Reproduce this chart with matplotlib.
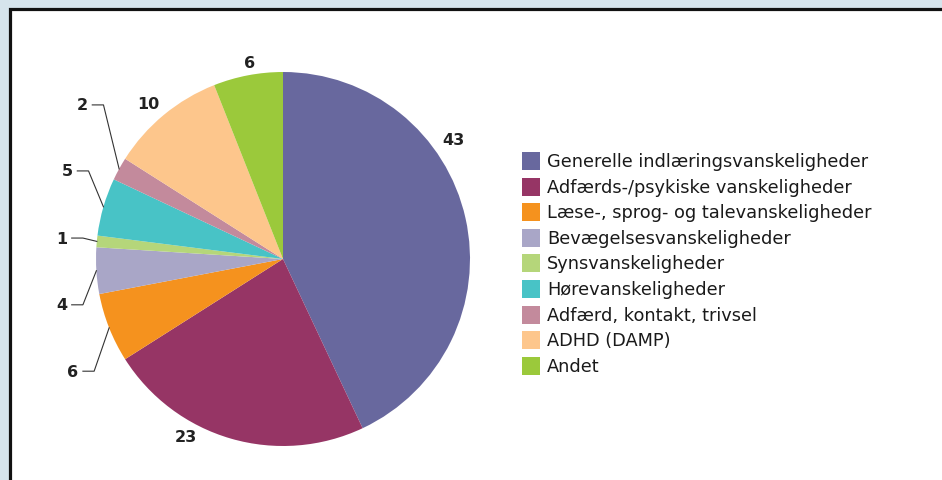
import numpy as np
import matplotlib.pyplot as plt
from matplotlib.patches import Rectangle

kategorier = ["Generelle indlæringsvanskeligheder", "Adfærds-/psykiske vanskeligheder",
              "Læse-, sprog- og talevanskeligheder", "Bevægelsesvanskeligheder",
              "Synsvanskeligheder", "Hørevanskeligheder", "Adfærd, kontakt, trivsel",
              "ADHD (DAMP)", "Andet"]
andel = [43, 23, 6, 4, 1, 5, 2, 10, 6]
farver = ["#68689e", "#963565", "#f5921e", "#a9a6c7", "#b5d67a",
          "#48c3c6", "#c38a9c", "#fdc68c", "#9bc93b"]

# label placement (pie units): plain labels and labels with leader lines
fri_label = {0: (0.91, 0.64), 1: (-0.52, -0.95), 7: (-0.72, 0.83), 8: (-0.18, 1.05)}
knae = {2: (-1.01, -0.60), 3: (-1.07, -0.245), 4: (-1.07, 0.112),
        5: (-1.04, 0.471), 6: (-0.96, 0.824)}

fig = plt.figure(figsize=(9.42, 4.81), dpi=100)
fig.patch.set_facecolor("#d6e4ec")
fig.patches.append(Rectangle((9.8 / 942, -0.1), 1.1, (481 - 10.3) / 481 + 0.1,
                             transform=fig.transFigure, facecolor="white",
                             edgecolor="#111111", linewidth=2.3, zorder=-5))

r_px = 187
half = 1.2 * r_px
ax = fig.add_axes([(283 - half) / 942, (481 - 260 - half) / 481, 2 * half / 942, 2 * half / 481])
ax.set_zorder(2)
ax.patch.set_visible(False)
wedges, _ = ax.pie(andel, colors=farver, startangle=90, counterclock=False, radius=1)
ax.set_xlim(-1.2, 1.2)
ax.set_ylim(-1.2, 1.2)
ax.axis("off")

for i, w in enumerate(wedges):
    if i in fri_label:
        x, y = fri_label[i]
        ax.text(x, y, str(andel[i]), ha="center", va="center", fontsize=11.5,
                fontweight="bold", color="#222222")
    else:
        a = np.deg2rad((w.theta1 + w.theta2) / 2)
        ex, ey = np.cos(a), np.sin(a)
        kx, ky = knae[i]
        ax.plot([ex, kx, kx - 0.06], [ey, ky, ky], color="#333333", lw=0.8, clip_on=False)
        ax.text(kx - 0.085, ky, str(andel[i]), ha="right", va="center", fontsize=11.5,
                fontweight="bold", color="#222222")

# legend
for i, (navn, f) in enumerate(zip(kategorier, farver)):
    yc = 162 + i * 25.6
    fig.patches.append(Rectangle((522 / 942, (481 - yc - 9) / 481), 18 / 942, 18 / 481,
                                 transform=fig.transFigure, facecolor=f, edgecolor="none",
                                 zorder=3))
    fig.text(547 / 942, (481 - yc) / 481, navn, ha="left", va="center",
             fontsize=12.8, color="#1a1a1a")

plt.savefig("out.png", dpi=100, facecolor=fig.get_facecolor())
